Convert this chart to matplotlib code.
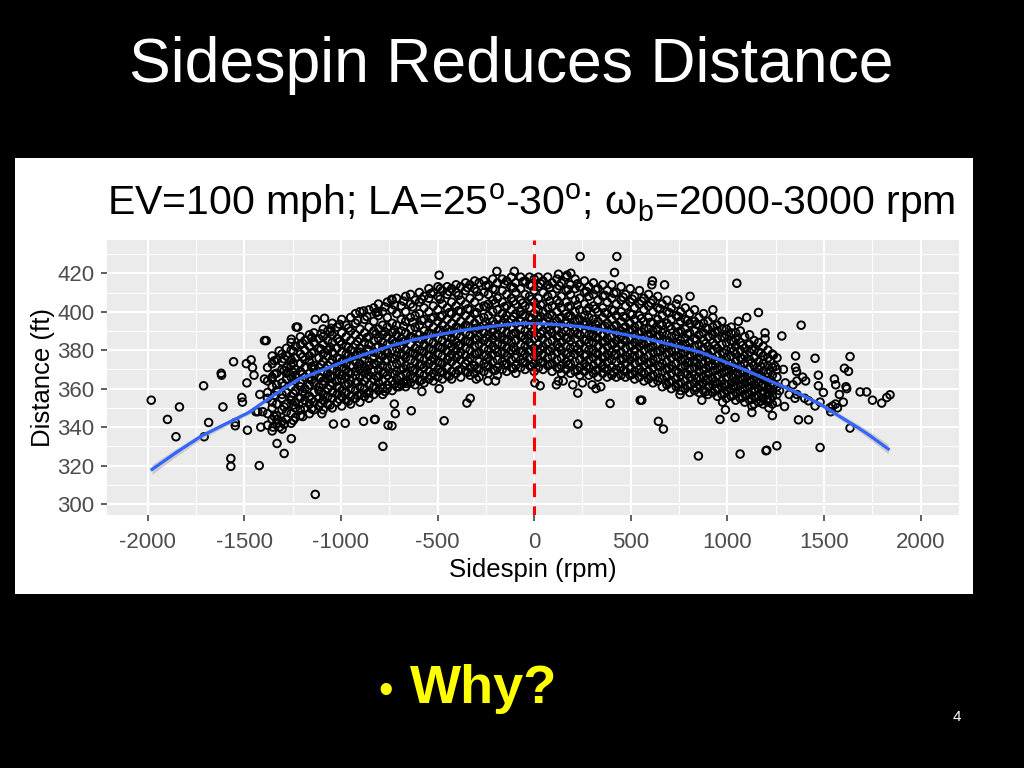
import matplotlib
matplotlib.use('Agg')
import matplotlib.pyplot as plt
from matplotlib.patches import Rectangle

plt.rcParams['font.family'] = ['Liberation Sans', 'DejaVu Sans']
plt.rcParams['mathtext.fontset'] = 'custom'
plt.rcParams['mathtext.rm'] = 'Liberation Sans'
plt.rcParams['mathtext.it'] = 'Liberation Sans:italic'

# sparse points (sidespin rpm, distance ft)
outlier_x = [-1982, -1898, -1854, -1836, -1711, -1708, -1685, -1620, -1618, -1611,
             -1570, -1570, -1556, -1547, -1547, -1513, -1510, -1490, -1487, -1484,
             -1465, -1458, -1450, -1423, -1420, -1440, -1415, -1396, -1396, -1430,
             -1405, -1133, -1331, -1294, -1257, -783, -1232, -1224, -1133, -1085,
             -1257, -1150, -1320, -1387, -1357, -1099, -1039, -978, -826, -756,
             -737, -883, -810, -1352, -1318, -1330, -1052, -823, -883,
             -492, -486, -193, -103, -466, -348, -331, -636, -581, -492,
             -719, -736, -724, -659, -700, -240, -200, -300,
             238, 428, 416, 226, 226, 393, 549, 31, 4, 115,
             150, 125, 200, 250, 300, 320, 345, 126, 170, 190,
             1049, 609, 612, 675, 744, 807, 925, 850, 1066, 1200,
             643, 669, 868, 962, 990, 975, 1040, 1127, 1127, 557,
             755, 1161, 1057, 1100, 1195, 1195,
             1382, 1282, 1238, 1353, 1353, 1358, 1454, 1635, 1606, 1627,
             1247, 1290, 1471, 1554, 1561, 1614, 1618, 1687, 1721, 1751,
             1799, 1842, 1825, 1580, 1600, 1560, 1570, 1545, 1530, 1535,
             1635, 1480, 1256, 1204, 1368, 1420, 1296, 1233, 1210, 1215,
             1480, 1420, 1454, 1360, 1390, 1405, 1340, 1300, 1270, 1471,
             1497, 1360, 1350, 1400, 1215, 1240, 1320]
outlier_y = [354, 344, 335, 350.5, 361.5, 335, 342.4, 368, 367, 350.5,
             323.7, 319.6, 374, 342.4, 340.7, 355.4, 353, 373, 363, 338.4,
             375, 371, 367, 320, 357, 348, 340, 385, 365, 348,
             348, 305, 331.5, 326.3, 334, 330, 392, 392, 396, 396.6,
             385.7, 386.6, 379.6, 385, 365, 347, 341.6, 342, 344, 341,
             406.5, 400.4, 400, 340, 340, 344, 391.4, 344, 343,
             419, 412, 421, 421, 343.3, 352.5, 355, 348.5, 358.5, 360,
             347, 340.7, 352, 362.7, 361, 364, 364, 365,
             428.7, 428.7, 420.4, 357.7, 341.6, 352.3, 354, 361.5, 363, 362,
             364, 364, 362, 363, 362, 360, 361, 419.5, 419, 420,
             414.8, 414, 416, 414, 406.5, 408, 401, 325, 326, 327.7,
             343, 339, 354, 344, 349, 353, 345, 347.6, 351, 354,
             357, 399.6, 395, 397, 389, 386,
             393, 387.4, 377.4, 377, 371, 369, 375.8, 376.7, 370.6, 369,
             371.5, 370, 367, 365, 362, 361, 360, 358.3, 358.3, 354,
             352.5, 356.8, 355.4, 357, 353, 352, 350, 351, 350, 348,
             339.5, 329.4, 330.3, 328, 343.8, 343.8, 350.7, 346, 354, 350,
             353, 353.7, 351, 364, 366, 364, 362, 363, 359, 361.5,
             358, 357, 355, 355, 358, 362, 357]

# dense middle of the cloud, estimated column by column (x, distances at that x)
core_columns = [
    (-1380, [341, 347, 355, 358, 364, 371]),
    (-1356, [338, 344, 350, 353, 361, 366, 373, 377]),
    (-1333, [342, 346, 352, 359, 362, 368, 375]),
    (-1305, [339, 343, 349, 355, 357, 363, 370, 374, 378]),
    (-1282, [344, 348, 352, 358, 365, 368, 371, 377, 381]),
    (-1258, [342, 347, 354, 356, 361, 366, 372, 375, 380, 384]),
    (-1236, [345, 350, 353, 359, 364, 367, 370, 376, 382]),
    (-1210, [346, 349, 355, 361, 363, 369, 373, 378, 383, 387]),
    (-1187, [350, 354, 357, 360, 366, 371, 375, 380, 385]),
    (-1163, [347, 352, 356, 362, 365, 368, 374, 377, 382, 388]),
    (-1140, [349, 353, 358, 363, 367, 370, 372, 379, 384, 389]),
    (-1114, [351, 355, 359, 361, 366, 371, 376, 381, 386]),
    (-1092, [349, 354, 357, 362, 364, 369, 374, 378, 383, 387, 391]),
    (-1068, [352, 356, 360, 365, 368, 372, 377, 380, 385, 390]),
    (-1045, [350, 355, 358, 363, 366, 370, 375, 379, 384, 388, 394]),
    (-1020, [353, 357, 361, 364, 369, 372, 376, 381, 386, 392]),
    (-996, [351, 356, 359, 365, 367, 371, 374, 379, 383, 389, 396]),
    (-973, [354, 358, 362, 366, 370, 373, 378, 382, 387, 393]),
    (-950, [352, 356, 360, 364, 368, 372, 376, 380, 385, 390, 397]),
    (-925, [355, 359, 363, 367, 369, 374, 377, 383, 388, 394, 399]),
    (-902, [353, 357, 361, 366, 370, 373, 379, 381, 386, 391, 400]),
    (-878, [356, 360, 364, 368, 371, 375, 378, 384, 389, 396]),
    (-855, [355, 358, 362, 367, 372, 374, 380, 383, 387, 392, 401]),
    (-830, [357, 361, 365, 369, 373, 376, 379, 385, 390, 395, 402]),
    (-806, [359, 363, 366, 370, 374, 378, 382, 386, 391, 398, 404]),
    (-784, [357, 360, 364, 368, 372, 377, 381, 384, 388, 393, 400]),
    (-760, [360, 362, 367, 371, 375, 379, 383, 387, 392, 397, 405]),
    (-735, [359, 364, 368, 372, 376, 380, 385, 389, 394, 401, 406]),
    (-712, [361, 365, 369, 373, 377, 381, 384, 388, 393, 399, 407]),
    (-688, [362, 366, 370, 374, 378, 382, 386, 390, 396, 403]),
    (-665, [361, 364, 368, 372, 376, 380, 385, 389, 395, 400, 408]),
    (-640, [363, 367, 371, 375, 379, 383, 387, 391, 397, 404, 409]),
    (-616, [362, 366, 370, 374, 378, 381, 386, 392, 398, 406]),
    (-594, [364, 368, 372, 376, 380, 384, 388, 393, 399, 405, 410]),
    (-570, [363, 367, 371, 375, 379, 383, 387, 390, 396, 402, 408]),
    (-545, [365, 369, 373, 377, 381, 385, 389, 394, 400, 407, 412]),
    (-522, [364, 368, 372, 376, 380, 384, 388, 392, 397, 403, 410]),
    (-498, [366, 370, 374, 378, 382, 386, 390, 395, 401, 408, 413]),
    (-475, [365, 369, 373, 377, 381, 385, 389, 393, 398, 404, 411]),
    (-450, [367, 371, 375, 379, 383, 387, 391, 396, 402, 409, 413]),
    (-427, [365, 369, 374, 378, 382, 386, 390, 394, 399, 405, 412]),
    (-404, [368, 372, 376, 380, 384, 388, 392, 397, 403, 410, 414]),
    (-380, [366, 370, 375, 379, 383, 387, 391, 395, 400, 406, 413]),
    (-355, [369, 373, 377, 381, 385, 389, 393, 398, 404, 411, 415]),
    (-332, [367, 371, 376, 380, 384, 388, 392, 396, 401, 407, 414]),
    (-308, [368, 372, 378, 382, 386, 390, 394, 399, 405, 412, 416]),
    (-285, [366, 370, 374, 379, 383, 387, 391, 396, 402, 408, 415]),
    (-260, [369, 373, 377, 381, 385, 389, 393, 397, 403, 410, 416]),
    (-237, [368, 372, 376, 380, 384, 388, 392, 398, 404, 409, 414]),
    (-214, [370, 374, 378, 382, 386, 390, 395, 400, 406, 412, 417]),
    (-190, [367, 371, 375, 379, 383, 388, 392, 396, 401, 407, 415]),
    (-165, [370, 374, 379, 383, 387, 391, 394, 399, 405, 411, 417]),
    (-142, [369, 373, 377, 381, 385, 389, 393, 398, 403, 409, 416]),
    (-118, [371, 375, 380, 384, 388, 392, 396, 401, 407, 413, 418]),
    (-95, [368, 372, 376, 380, 385, 389, 394, 399, 404, 410, 415]),
    (-70, [371, 375, 379, 383, 387, 391, 395, 400, 406, 412, 418]),
    (-47, [370, 374, 378, 382, 386, 390, 394, 398, 403, 409, 416]),
    (-24, [372, 376, 380, 384, 388, 393, 397, 402, 408, 414, 418]),
    (0, [369, 373, 377, 381, 386, 390, 394, 399, 405, 411, 417]),
    (22, [371, 375, 379, 383, 387, 392, 396, 401, 407, 413, 418]),
    (46, [370, 374, 378, 382, 386, 390, 395, 400, 404, 410, 416]),
    (70, [372, 376, 380, 384, 388, 392, 397, 402, 408, 414, 418]),
    (93, [369, 373, 377, 381, 385, 389, 393, 398, 403, 409, 415]),
    (118, [371, 375, 379, 383, 387, 391, 395, 400, 406, 412, 417]),
    (141, [368, 372, 376, 380, 384, 389, 393, 397, 402, 408, 415]),
    (165, [370, 374, 378, 382, 386, 390, 394, 399, 405, 411, 418]),
    (188, [368, 373, 377, 381, 385, 389, 393, 398, 403, 409, 414]),
    (212, [369, 374, 378, 382, 386, 390, 395, 400, 406, 412, 417]),
    (236, [367, 371, 375, 379, 383, 388, 392, 396, 401, 407, 413]),
    (260, [369, 373, 377, 381, 385, 389, 393, 398, 404, 410, 416]),
    (283, [367, 371, 375, 380, 384, 388, 392, 397, 402, 408, 413]),
    (307, [368, 372, 376, 380, 384, 388, 391, 396, 403, 409, 415]),
    (330, [366, 370, 374, 378, 382, 386, 390, 395, 400, 406, 412]),
    (355, [368, 372, 376, 380, 384, 388, 392, 397, 402, 408, 414]),
    (378, [366, 370, 374, 378, 382, 386, 390, 394, 399, 405, 411]),
    (402, [367, 371, 375, 379, 383, 387, 391, 396, 401, 407, 414]),
    (425, [366, 370, 374, 378, 381, 385, 389, 393, 398, 404, 410]),
    (450, [367, 371, 375, 379, 383, 387, 390, 395, 400, 406, 413]),
    (473, [366, 369, 373, 377, 381, 385, 389, 392, 397, 403, 409]),
    (497, [367, 371, 375, 378, 382, 386, 390, 394, 399, 405, 412]),
    (520, [365, 369, 373, 377, 380, 384, 388, 392, 396, 402, 408]),
    (545, [366, 370, 374, 378, 382, 385, 389, 393, 398, 404, 411]),
    (568, [364, 368, 372, 376, 380, 383, 387, 391, 395, 401, 407]),
    (592, [365, 369, 373, 377, 381, 384, 388, 391, 397, 403, 409]),
    (615, [363, 367, 371, 375, 379, 382, 386, 390, 394, 400, 406]),
    (640, [364, 368, 372, 376, 379, 383, 387, 391, 396, 402, 408]),
    (663, [361, 365, 369, 373, 377, 381, 385, 389, 393, 398, 404]),
    (687, [362, 366, 370, 374, 378, 382, 385, 388, 394, 400, 406]),
    (710, [360, 364, 368, 372, 376, 380, 383, 387, 391, 396, 402]),
    (735, [361, 365, 369, 373, 377, 380, 384, 388, 392, 398, 404]),
    (758, [359, 363, 367, 371, 375, 378, 382, 385, 390, 395, 400]),
    (782, [360, 364, 368, 372, 375, 379, 383, 386, 391, 396, 402]),
    (805, [358, 362, 366, 370, 374, 377, 381, 384, 389, 394, 399]),
    (830, [359, 363, 367, 371, 374, 378, 382, 386, 390, 395, 401]),
    (853, [358, 362, 366, 369, 372, 376, 379, 383, 388, 393, 397]),
    (877, [359, 363, 366, 370, 373, 377, 381, 385, 389, 394, 399]),
    (900, [357, 361, 365, 368, 372, 375, 378, 382, 387, 391, 395]),
    (925, [358, 362, 365, 369, 372, 376, 380, 384, 388, 392, 397]),
    (948, [356, 360, 363, 367, 370, 374, 377, 381, 386, 390, 393]),
    (972, [357, 361, 364, 368, 371, 375, 379, 383, 387, 391, 395]),
    (995, [355, 359, 362, 366, 369, 372, 376, 380, 384, 388, 391]),
    (1020, [356, 360, 363, 367, 370, 373, 377, 381, 385, 389, 392]),
    (1043, [354, 358, 361, 364, 367, 371, 374, 378, 382, 386, 389]),
    (1067, [355, 359, 362, 365, 368, 372, 376, 380, 384, 390]),
    (1090, [353, 357, 360, 363, 366, 369, 373, 377, 381, 387]),
    (1115, [354, 357, 361, 364, 367, 371, 375, 379, 383, 388]),
    (1138, [352, 356, 359, 362, 365, 368, 372, 376, 380, 385]),
    (1162, [353, 356, 360, 363, 367, 370, 374, 379, 384]),
    (1185, [352, 355, 358, 362, 365, 369, 373, 377, 382]),
    (1210, [353, 357, 360, 364, 368, 372, 376, 380]),
    (1233, [352, 356, 359, 363, 367, 371, 378]),
    (1257, [353, 357, 361, 366, 370, 376]),
]

# more of the dense cloud, in between the columns above
core_fill = [
    (-1345, [345.5, 356.5, 367.5, 374.5]),
    (-1294, [341.5, 350.5, 361.5, 369.5, 375.5]),
    (-1247, [343.5, 351.5, 357.5, 368.5, 373.5, 379.5]),
    (-1198, [345.5, 352.5, 358.5, 367.5, 376.5, 383.5]),
    (-1152, [349.5, 354.5, 364.5, 371.5, 378.5, 386.5]),
    (-1103, [352.5, 358.5, 365.5, 372.5, 380.5, 388.5]),
    (-1056, [351.5, 361.5, 366.5, 373.5, 381.5, 389.5]),
    (-1008, [354.5, 360.5, 367.5, 375.5, 384.5, 393.5]),
    (-961, [353.5, 362.5, 368.5, 377.5, 381.5, 391.5]),
    (-913, [356.5, 363.5, 371.5, 378.5, 384.5, 395.5]),
    (-866, [357.5, 365.5, 369.5, 380.5, 386.5, 397.5]),
    (-818, [360.5, 366.5, 372.5, 381.5, 388.5, 399.5]),
    (-772, [358.5, 368.5, 374.5, 379.5, 389.5, 402.5]),
    (-723, [362.5, 367.5, 375.5, 383.5, 390.5, 403.5]),
    (-676, [363.5, 370.5, 377.5, 384.5, 392.5, 405.5]),
    (-628, [365.5, 369.5, 378.5, 386.5, 394.5, 402.5]),
    (-582, [364.5, 372.5, 379.5, 385.5, 395.5, 406.5]),
    (-534, [366.5, 374.5, 380.5, 388.5, 396.5, 409.5]),
    (-487, [368.5, 373.5, 381.5, 390.5, 397.5, 406.5]),
    (-439, [366.5, 376.5, 383.5, 389.5, 399.5, 410.5]),
    (-392, [369.5, 377.5, 382.5, 391.5, 400.5, 408.5]),
    (-343, [368.5, 374.5, 384.5, 392.5, 401.5, 412.5]),
    (-297, [370.5, 378.5, 385.5, 391.5, 399.5, 410.5]),
    (-249, [371.5, 377.5, 386.5, 394.5, 402.5, 413.5]),
    (-202, [369.5, 380.5, 387.5, 393.5, 404.5, 411.5]),
    (-154, [372.5, 378.5, 385.5, 396.5, 402.5, 414.5]),
    (-107, [370.5, 381.5, 388.5, 397.5, 405.5, 412.5]),
    (-59, [373.5, 379.5, 387.5, 398.5, 404.5, 415.5]),
    (-12, [371.5, 382.5, 389.5, 396.5, 406.5, 413.5]),
    (34, [373.5, 380.5, 388.5, 397.5, 403.5, 414.5]),
    (81, [372.5, 379.5, 390.5, 398.5, 405.5, 412.5]),
    (130, [370.5, 381.5, 387.5, 396.5, 404.5, 413.5]),
    (176, [372.5, 378.5, 386.5, 397.5, 402.5, 411.5]),
    (224, [369.5, 380.5, 388.5, 395.5, 403.5, 414.5]),
    (271, [371.5, 377.5, 385.5, 394.5, 400.5, 410.5]),
    (318, [369.5, 378.5, 386.5, 393.5, 401.5, 411.5]),
    (366, [370.5, 376.5, 384.5, 392.5, 399.5, 408.5]),
    (413, [368.5, 377.5, 383.5, 392.5, 400.5, 409.5]),
    (461, [369.5, 375.5, 385.5, 391.5, 397.5, 407.5]),
    (508, [367.5, 376.5, 382.5, 390.5, 398.5, 406.5]),
    (556, [368.5, 374.5, 383.5, 389.5, 396.5, 405.5]),
    (604, [366.5, 373.5, 381.5, 388.5, 394.5, 404.5]),
    (651, [365.5, 371.5, 379.5, 387.5, 393.5, 401.5]),
    (699, [363.5, 370.5, 378.5, 384.5, 392.5, 399.5]),
    (746, [362.5, 368.5, 376.5, 383.5, 389.5, 397.5]),
    (794, [361.5, 367.5, 373.5, 380.5, 388.5, 395.5]),
    (841, [360.5, 365.5, 373.5, 378.5, 385.5, 393.5]),
    (889, [358.5, 364.5, 370.5, 377.5, 383.5, 391.5]),
    (936, [359.5, 363.5, 369.5, 374.5, 382.5, 389.5]),
    (984, [357.5, 362.5, 368.5, 373.5, 378.5, 386.5]),
    (1031, [356.5, 361.5, 365.5, 371.5, 379.5, 384.5]),
    (1079, [355.5, 359.5, 364.5, 369.5, 375.5, 382.5]),
    (1126, [354.5, 358.5, 363.5, 367.5, 373.5, 380.5]),
    (1174, [353.5, 357.5, 361.5, 366.5, 371.5, 378.5]),
    (1221, [354.5, 359.5, 364.5, 369.5, 374.5]),
]

# smooth fit line, with its grey band half width
smooth_x = [-1978, -1850, -1720, -1600, -1478, -1350, -1219, -1100, -978, -860,
            -745, -620, -486, -360, -228, -120, -55, 20, 83, 160,
            238, 350, 462, 580, 704, 860, 997, 1110, 1221, 1350,
            1480, 1550, 1618, 1680, 1739, 1833]
smooth_y = [318, 327, 335.5, 341.5, 347.6, 356.5, 365, 369.5, 374.4, 378.5,
            382.2, 385.5, 388.3, 390.5, 392.3, 393.5, 394, 393.8, 393.5, 393,
            392.3, 390.5, 388.3, 386, 383, 379, 373.6, 369, 364, 358.5,
            352, 347.5, 343.3, 339.5, 335.5, 328.6]
smooth_se = [2.6, 2.0, 1.6, 1.3, 1.1, 0.9, 0.8, 0.7, 0.6, 0.6,
             0.5, 0.5, 0.5, 0.5, 0.5, 0.5, 0.5, 0.5, 0.5, 0.5,
             0.5, 0.5, 0.5, 0.5, 0.6, 0.6, 0.7, 0.8, 0.9, 1.0,
             1.2, 1.4, 1.6, 1.8, 2.0, 2.5]

x_ticks = [-2000, -1500, -1000, -500, 0, 500, 1000, 1500, 2000]
y_ticks = [300, 320, 340, 360, 380, 400, 420]

sx = list(outlier_x)
sy = list(outlier_y)
for cx, ys in core_columns + core_fill:
    for v in ys:
        sx.append(cx)
        sy.append(v)

fig = plt.figure(figsize=(10.24, 7.68), dpi=100, facecolor='black')
fig.patches.append(Rectangle((15 / 1024, 1 - 594 / 768), 958 / 1024, 436 / 768,
                             transform=fig.transFigure, facecolor='white',
                             edgecolor='none', zorder=-5))

ax = fig.add_axes([107 / 1024, 1 - 515 / 768, 852 / 1024, 275 / 768])
ax.set_facecolor('#EBEBEB')
ax.set_xlim(-2211, 2199)
ax.set_ylim(294.3, 437.3)
ax.set_xticks(x_ticks)
ax.set_xticklabels([str(t) for t in x_ticks])
ax.set_yticks(y_ticks)
ax.set_xticks([-1750, -1250, -750, -250, 250, 750, 1250, 1750], minor=True)
ax.set_yticks([310, 330, 350, 370, 390, 410, 430], minor=True)
ax.grid(which='major', color='white', lw=1.4)
ax.grid(which='minor', color='white', lw=0.7)
ax.set_axisbelow(True)
for s in ax.spines.values():
    s.set_visible(False)
ax.tick_params(which='major', length=4, width=1.1, color='#333333',
               labelsize=16, labelcolor='#4D4D4D')
ax.tick_params(axis='x', which='major', pad=8)
ax.tick_params(axis='y', which='major', pad=5)
ax.tick_params(which='minor', length=0)

ax.scatter(sx, sy, s=30, facecolors='none', edgecolors='black', linewidths=1.35, zorder=2)
ax.fill_between(smooth_x, [a - b for a, b in zip(smooth_y, smooth_se)],
                [a + b for a, b in zip(smooth_y, smooth_se)],
                color='#999999', alpha=0.4, lw=0, zorder=3)
ax.plot(smooth_x, smooth_y, color='#3366FF', lw=2.3, zorder=4)
ax.axvline(0, color='red', lw=2.2, ls=(1.5, (4.5, 3)), zorder=5)

ax.set_xlabel('Sidespin (rpm)', fontsize=18.5, color='black', labelpad=4)
ax.set_ylabel('Distance (ft)', fontsize=18.5, color='black', labelpad=2)

fig.text(511 / 1024, 1 - 82 / 768, 'Sidespin Reduces Distance', color='white',
         fontsize=45, ha='center', va='baseline')
fig.text(107 / 1024, 1 - 214 / 768,
         'EV=100 mph; LA=25$^{\\rm o}$-30$^{\\rm o}$; \u03c9$_{\\rm b}$=2000-3000 rpm',
         color='black', fontsize=29.5, ha='left', va='baseline')
fig.text(386 / 1024, 1 - 703 / 768, '\u2022', color='#FFFF00', fontsize=30,
         ha='center', va='baseline')
fig.text(410 / 1024, 1 - 703 / 768, 'Why?', color='#FFFF00', fontsize=39,
         fontweight='bold', ha='left', va='baseline')
fig.text(957 / 1024, 1 - 717 / 768, '4', color='white', fontsize=11,
         ha='center', va='center')

plt.savefig('out.png', dpi=100, facecolor='black')
